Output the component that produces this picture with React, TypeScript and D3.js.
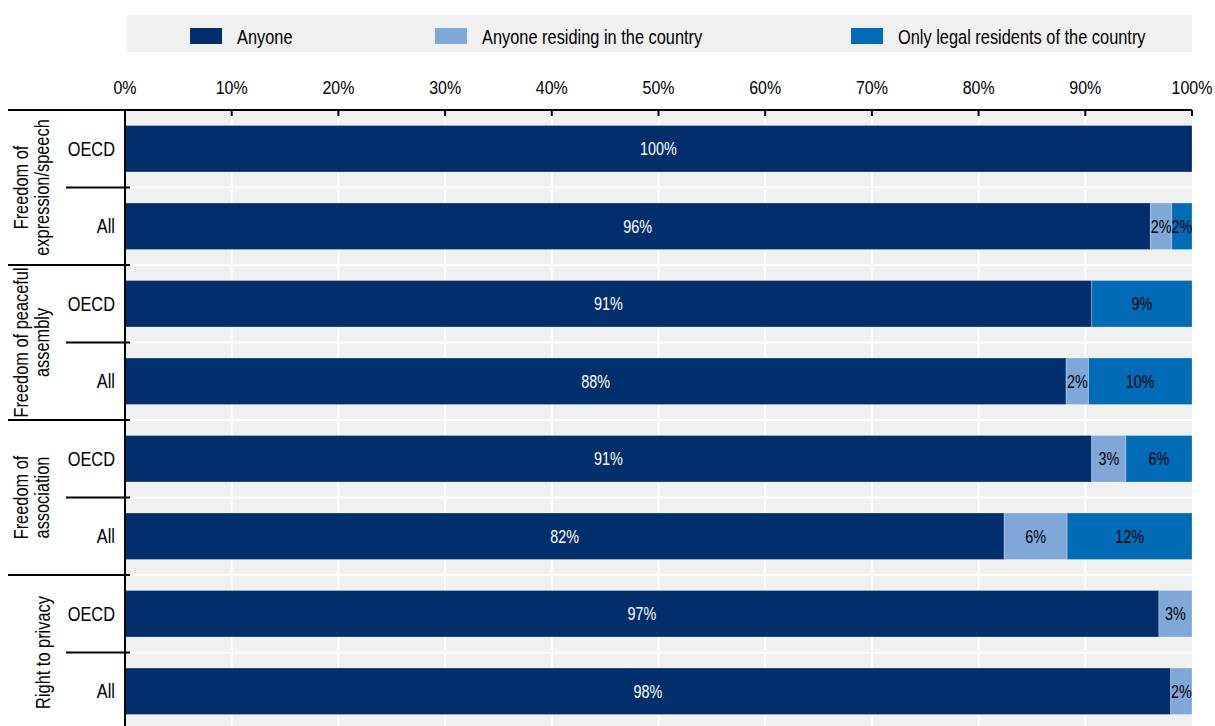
import React from "react";
import * as d3 from "d3";

const groups = [
  ["Freedom of", "expression/speech"],
  ["Freedom of peaceful", "assembly"],
  ["Freedom of", "association"],
  ["Right to privacy"],
];
const subgroups = ["OECD", "All"];
const seriesNames = ["Anyone", "Anyone residing in the country", "Only legal residents of the country"];
const seriesColors = ["#002F6C", "#7FA8D9", "#006BB6"];
const labelColors = ["#ffffff", "#000000", "#000000"];

// rows in order: group0 OECD, group0 All, group1 OECD, ...
const anyone = [100, 96.1, 90.6, 88.2, 90.6, 82.4, 96.9, 98.0];
const residing = [0, 2.0, 0, 2.1, 3.2, 5.9, 3.1, 2.0];
const legalOnly = [0, 1.9, 9.4, 9.7, 6.2, 11.7, 0, 0];
const tickValues = [0, 10, 20, 30, 40, 50, 60, 70, 80, 90, 100];

const W = 1215;
const H = 726;
const left = 125;
const right = 1192;
const top = 110;
const rowH = 77.5;
const font = "'Liberation Sans', Arial, sans-serif";
const SX = 0.84;

function T(props: {
  x: number;
  y: number;
  rotate?: number;
  anchor?: string;
  size: number;
  sx?: number;
  fill?: string;
  dy?: string;
  children: React.ReactNode;
}) {
  const { x, y, rotate, anchor, size, sx = SX, fill = "#000", dy, children } = props;
  return (
    <text
      transform={`translate(${x},${y})${rotate ? ` rotate(${rotate})` : ""} scale(${sx},1)`}
      textAnchor={anchor || "start"}
      fontSize={size}
      fill={fill}
      dy={dy}
    >
      {children}
    </text>
  );
}

export default function App() {
  const nRows = anyone.length;
  const x = d3.scaleLinear().domain([0, 100]).range([left, right]);
  const rowIds = d3.range(nRows).map(String);
  const y = d3
    .scaleBand()
    .domain(rowIds)
    .range([top, top + rowH * nRows])
    .paddingInner(0.4)
    .paddingOuter(0.2);
  const bw = y.bandwidth();
  const step = y.step();
  const rowTop = (i: number) => top + i * step;

  const data = d3.range(nRows).map((i) => ({ i, v: [anyone[i], residing[i], legalOnly[i]] }));
  const stacked = d3.stack<any>().keys(["0", "1", "2"]).value((d: any, k: string) => d.v[+k])(data);

  const plotBottom = top + rowH * nRows;

  return (
    <svg
      width={W}
      height={H}
      style={{ position: "absolute", left: 0, top: 0, fontFamily: font }}
    >
      {/* legend */}
      <rect x={127} y={15} width={1065} height={37} fill="#f0f0f0" />
      {seriesNames.map((s, k) => {
        const lx = [190, 435, 851][k];
        return (
          <g key={s}>
            <rect x={lx} y={28} width={32} height={16} fill={seriesColors[k]} />
            <T x={lx + 47} y={43.5} size={19.5}>
              {s}
            </T>
          </g>
        );
      })}

      {/* plot background */}
      <rect x={left} y={top} width={right - left} height={plotBottom - top} fill="#f0f0f0" />
      {tickValues.slice(1, -1).map((t) => (
        <line key={"g" + t} x1={x(t)} x2={x(t)} y1={top} y2={plotBottom} stroke="#fff" strokeWidth={2} />
      ))}
      {d3.range(1, nRows).map((i) => (
        <line key={"h" + i} x1={left} x2={right} y1={rowTop(i)} y2={rowTop(i)} stroke="#fff" strokeWidth={2} />
      ))}

      {/* bars */}
      {stacked.map((layer, k) =>
        layer.map((d, i) => {
          const w = x(d[1]) - x(d[0]);
          if (w <= 0.01) return null;
          return (
            <rect
              key={k + "-" + i}
              x={x(d[0])}
              y={y(String(i))!}
              width={w}
              height={bw}
              fill={seriesColors[k]}
              stroke="#ffffff"
              strokeOpacity={0.25}
              strokeWidth={1}
            />
          );
        })
      )}
      {stacked.map((layer, k) =>
        layer.map((d, i) => {
          const v = d[1] - d[0];
          if (v <= 0.01) return null;
          return (
            <T
              key={"t" + k + "-" + i}
              x={(x(d[0]) + x(d[1])) / 2}
              y={y(String(i))! + bw / 2}
              dy="0.36em"
              anchor="middle"
              size={18}
              sx={0.8}
              fill={labelColors[k]}
            >
              {Math.round(v) + "%"}
            </T>
          );
        })
      )}

      {/* top axis */}
      <line x1={8} x2={right} y1={top} y2={top} stroke="#000" strokeWidth={2} />
      {tickValues.map((t) => (
        <g key={"t" + t}>
          {t > 0 && <line x1={x(t)} x2={x(t)} y1={top} y2={top + 6} stroke="#000" strokeWidth={2} />}
          <T x={x(t)} y={94.3} anchor="middle" size={19}>
            {t + "%"}
          </T>
        </g>
      ))}
      {/* left axis */}
      <line x1={left} x2={left} y1={top} y2={H} stroke="#000" strokeWidth={2} />
      {d3.range(1, nRows).map((i) => (
        <line
          key={"s" + i}
          x1={i % 2 === 0 ? 8 : 66}
          x2={left + 5}
          y1={rowTop(i)}
          y2={rowTop(i)}
          stroke="#000"
          strokeWidth={2}
        />
      ))}
      {d3.range(nRows).map((i) => (
        <T key={"c" + i} x={115} y={y(String(i))! + bw / 2} dy="0.36em" anchor="end" size={19.5}>
          {subgroups[i % 2]}
        </T>
      ))}
      {groups.map((lines, g) => {
        const cy = rowTop(g * 2 + 1);
        return (
          <g key={"grp" + g}>
            {lines.map((ln, j) => {
              const bx = lines.length === 1 ? 50 : j === 0 ? 28 : 49;
              return (
                <T key={j} x={bx} y={cy} rotate={-90} anchor="middle" size={19.5}>
                  {ln}
                </T>
              );
            })}
          </g>
        );
      })}
    </svg>
  );
}
